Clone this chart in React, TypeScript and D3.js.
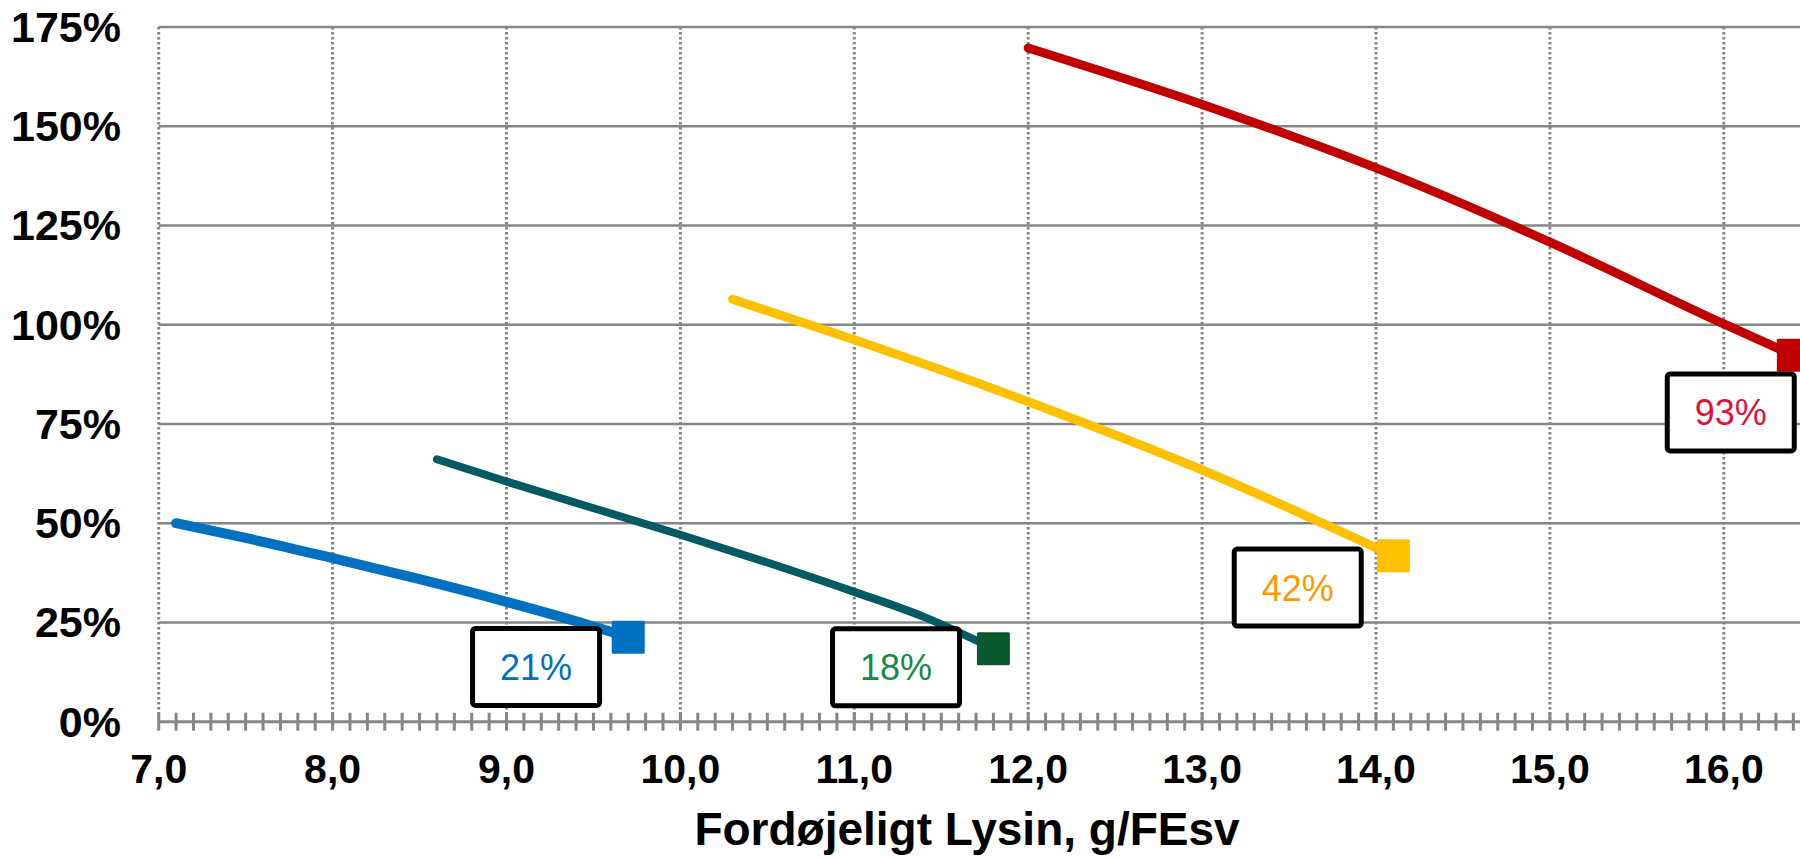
import React from "react";
import * as d3 from "d3";

// ---------- data ----------
const xTicks = [7, 8, 9, 10, 11, 12, 13, 14, 15, 16];
const yTicks = [0, 0.25, 0.5, 0.75, 1.0, 1.25, 1.5, 1.75];
const xTitle = "Fordøjeligt Lysin, g/FEsv";

const blueX = [7.1, 7.5, 8.0, 8.5, 9.0, 9.4, 9.7];
const blueY = [0.5, 0.463, 0.412, 0.359, 0.302, 0.253, 0.213];

const tealX = [8.6, 9.0, 10.0, 10.5, 11.0, 11.4, 11.8];
const tealY = [0.661, 0.605, 0.471, 0.401, 0.327, 0.264, 0.184];

const yellowX = [10.3, 11.0, 12.0, 13.0, 14.1];
const yellowY = [1.064, 0.962, 0.806, 0.634, 0.418];

const redX = [12.0, 13.0, 14.0, 15.0, 16.0, 16.4];
const redY = [1.697, 1.555, 1.395, 1.208, 1.002, 0.923];

const endLabels = ["21%", "18%", "42%", "93%"];

// ---------- layout / style ----------
const W = 1800;
const H = 860;
const X0 = 158.7;
const UNIT = 173.9;
const Y_TOP = 27;
const Y_BOT = 721.7;

const seriesStyle = [
  { line: "#0070C0", marker: "#0070C0", text: "#0070C0", width: 10 },
  { line: "#045A63", marker: "#0A5A2E", text: "#178A45", width: 8 },
  { line: "#FFC000", marker: "#FFC000", text: "#FF9900", width: 9 },
  { line: "#C00000", marker: "#C00000", text: "#E0123C", width: 9 },
];
// label box centres in data units
const labelBoxX = [9.17, 11.24, 13.55, 16.04];
const labelBoxY = [0.138, 0.137, 0.338, 0.779];
const BOX_W = 127;
const BOX_H = 77;
const MARKER = 33;
const FONT = "'Liberation Sans', Arial, Helvetica, sans-serif";
const GRID = "#868686";

export default function App() {
  const x = d3.scaleLinear().domain([7, 16.5]).range([X0, X0 + 9.5 * UNIT]);
  const y = d3.scaleLinear().domain([0, 1.75]).range([Y_BOT, Y_TOP]);

  const series = [
    { xs: blueX, ys: blueY },
    { xs: tealX, ys: tealY },
    { xs: yellowX, ys: yellowY },
    { xs: redX, ys: redY },
  ];

  const line = d3
    .line<[number, number]>()
    .x((d) => x(d[0]))
    .y((d) => y(d[1]))
    .curve(d3.curveMonotoneX);

  const minorTicks = d3.range(70, 166).map((v) => v / 10);
  const xRight = W + 20;

  return (
    <svg
      width={W}
      height={H}
      style={{ position: "absolute", left: 0, top: 0, background: "#fff" }}
    >
      {/* horizontal gridlines */}
      {yTicks.slice(1).map((t) => (
        <line
          key={"h" + t}
          x1={X0}
          x2={xRight}
          y1={y(t)}
          y2={y(t)}
          stroke={GRID}
          strokeWidth={2.4}
        />
      ))}
      {/* vertical dotted gridlines */}
      {xTicks.map((t) => (
        <line
          key={"v" + t}
          x1={x(t)}
          x2={x(t)}
          y1={Y_TOP}
          y2={Y_BOT}
          stroke={GRID}
          strokeWidth={3}
          strokeDasharray="2.5 2.5"
        />
      ))}
      {/* x axis */}
      <line x1={X0} x2={xRight} y1={Y_BOT} y2={Y_BOT} stroke={GRID} strokeWidth={3} />
      {minorTicks.map((t) => (
        <line
          key={"m" + t}
          x1={x(t)}
          x2={x(t)}
          y1={Y_BOT - 9}
          y2={Y_BOT + 9}
          stroke={GRID}
          strokeWidth={3}
        />
      ))}
      {/* tick labels */}
      {xTicks.map((t) => (
        <text
          key={"xl" + t}
          x={x(t)}
          y={783}
          textAnchor="middle"
          fontFamily={FONT}
          fontWeight="bold"
          fontSize={41}
          fill="#000"
        >
          {t.toFixed(1).replace(".", ",")}
        </text>
      ))}
      {yTicks.map((t) => (
        <text
          key={"yl" + t}
          x={121}
          y={y(t) + 15}
          textAnchor="end"
          fontFamily={FONT}
          fontWeight="bold"
          fontSize={43}
          fill="#000"
        >
          {Math.round(t * 100) + "%"}
        </text>
      ))}
      <text
        x={967}
        y={845}
        textAnchor="middle"
        fontFamily={FONT}
        fontWeight="bold"
        fontSize={46}
        fill="#000"
      >
        {xTitle}
      </text>

      {/* series */}
      {series.map((s, i) => {
        const pts: [number, number][] = s.xs.map((v, j) => [v, s.ys[j]]);
        const last = pts[pts.length - 1];
        const st = seriesStyle[i];
        return (
          <g key={"s" + i}>
            <path
              d={line(pts) || ""}
              fill="none"
              stroke={st.line}
              strokeWidth={st.width}
              strokeLinecap="round"
              strokeLinejoin="round"
            />
            <rect
              x={x(last[0]) - MARKER / 2}
              y={y(last[1]) - MARKER / 2}
              width={MARKER}
              height={MARKER}
              rx={1.5}
              fill={st.marker}
            />
          </g>
        );
      })}

      {/* labels */}
      {endLabels.map((lab, i) => {
        const cx = x(labelBoxX[i]);
        const cy = y(labelBoxY[i]);
        return (
          <g key={"lab" + i}>
            <rect
              x={cx - BOX_W / 2}
              y={cy - BOX_H / 2}
              width={BOX_W}
              height={BOX_H}
              rx={3}
              fill="#fff"
              stroke="#000"
              strokeWidth={5}
            />
            <text
              x={cx}
              y={cy + 13}
              textAnchor="middle"
              fontFamily={FONT}
              fontSize={36}
              fill={seriesStyle[i].text}
            >
              {lab}
            </text>
          </g>
        );
      })}
    </svg>
  );
}
